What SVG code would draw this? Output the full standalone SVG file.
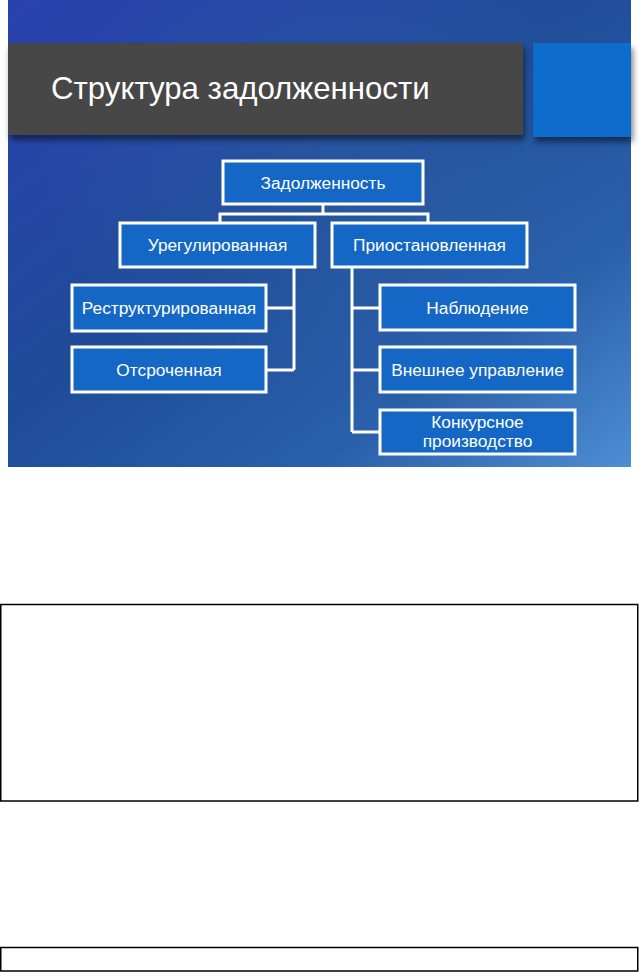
<svg xmlns="http://www.w3.org/2000/svg" width="639" height="972" viewBox="0 0 639 972">
<defs>
<linearGradient id="bg" x1="0" y1="0" x2="1" y2="1">
<stop offset="0" stop-color="#2a42b0"/>
<stop offset="0.45" stop-color="#1f4c98"/>
<stop offset="0.75" stop-color="#2a60aa"/>
<stop offset="1" stop-color="#4d8ed3"/>
</linearGradient>
<radialGradient id="glow" cx="0.55" cy="0.35" r="0.5">
<stop offset="0" stop-color="#3a6cb0" stop-opacity="0.3"/>
<stop offset="1" stop-color="#3a6cb0" stop-opacity="0"/>
</radialGradient>
<filter id="sh" x="-10%" y="-20%" width="130%" height="150%">
<feGaussianBlur in="SourceAlpha" stdDeviation="3"/>
<feOffset dx="2" dy="5"/>
<feComponentTransfer><feFuncA type="linear" slope="0.5"/></feComponentTransfer>
<feMerge><feMergeNode/><feMergeNode in="SourceGraphic"/></feMerge>
</filter>
</defs>
<style>
.box{fill:#1467c4;stroke:#ffffff;stroke-width:3}
.lbl{font-family:"Liberation Sans",Arial,sans-serif;font-size:17.3px;fill:#ffffff;text-anchor:middle}
.con{fill:none;stroke:#ffffff;stroke-width:3}
.frame{fill:none;stroke:#000000;stroke-width:1.5}
.title{font-family:"Liberation Sans",Arial,sans-serif;font-size:31.2px;fill:#ffffff}
</style>
<rect x="0" y="0" width="639" height="972" fill="#ffffff"/>
<g id="slide">
<rect x="8" y="0" width="623" height="467" fill="url(#bg)"/>
<rect x="8" y="0" width="623" height="467" fill="url(#glow)"/>
<rect x="8" y="43" width="515" height="92" fill="#474747" filter="url(#sh)"/>
<rect x="533" y="43" width="98" height="94" fill="#116ccc" filter="url(#sh)"/>
<text class="title" x="51" y="99">Структура задолженности</text>
</g>
<g id="connectors">
<path class="con" d="M323 204 V214 M220 223 V214 H428 V223"/>
<path class="con" d="M294 267 V370 M266 308 H294 M266 370 H294"/>
<path class="con" d="M352 267 V432 M352 308 H380 M352 370 H380 M352 432 H380"/>
</g>
<g id="n-root">
<rect class="box" x="223" y="161" width="200" height="43"/>
<text class="lbl" x="323" y="188.5">Задолженность</text>
</g>
<g id="n-ureg">
<rect class="box" x="120" y="223" width="195" height="44"/>
<text class="lbl" x="217.5" y="251">Урегулированная</text>
</g>
<g id="n-priost">
<rect class="box" x="332" y="223" width="195" height="44"/>
<text class="lbl" x="429.5" y="251">Приостановленная</text>
</g>
<g id="n-restr">
<rect class="box" x="72" y="285" width="194" height="46"/>
<text class="lbl" x="169" y="314">Реструктурированная</text>
</g>
<g id="n-otsr">
<rect class="box" x="72" y="347" width="194" height="45"/>
<text class="lbl" x="169" y="375.5">Отсроченная</text>
</g>
<g id="n-nabl">
<rect class="box" x="380" y="285" width="195" height="45"/>
<text class="lbl" x="477.5" y="313.5">Наблюдение</text>
</g>
<g id="n-vnesh">
<rect class="box" x="380" y="347" width="195" height="45"/>
<text class="lbl" x="477.5" y="375.5">Внешнее управление</text>
</g>
<g id="n-konk">
<rect class="box" x="380" y="410" width="195" height="44"/>
<text class="lbl" x="477.5" y="428">Конкурсное</text>
<text class="lbl" x="477.5" y="447">производство</text>
</g>
<g id="frames">
<rect class="frame" x="0.75" y="604.5" width="637" height="196.5"/>
<rect class="frame" x="0.75" y="947.5" width="637" height="23.5"/>
</g>
</svg>
